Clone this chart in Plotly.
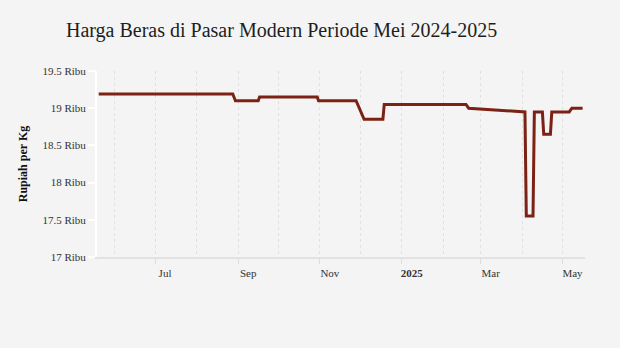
import plotly.graph_objects as go

# Harga beras di pasar modern (ribu rupiah per kg)
tanggal = [
    "2024-05-20", "2024-08-28", "2024-08-30", "2024-09-16", "2024-09-17",
    "2024-10-30", "2024-10-31", "2024-11-28", "2024-12-04", "2024-12-18",
    "2024-12-19", "2025-02-18", "2025-02-20", "2025-04-03", "2025-04-04",
    "2025-04-09", "2025-04-10", "2025-04-16", "2025-04-17", "2025-04-22",
    "2025-04-23", "2025-05-06", "2025-05-08", "2025-05-16",
]
harga = [
    19.19, 19.19, 19.10, 19.10, 19.15,
    19.15, 19.10, 19.10, 18.85, 18.85,
    19.05, 19.05, 19.00, 18.95, 17.55,
    17.55, 18.95, 18.95, 18.65, 18.65,
    18.95, 18.95, 19.00, 19.00,
]

# Label sumbu
x_tickvals = ["2024-07-01", "2024-09-01", "2024-11-01", "2025-01-01", "2025-03-01", "2025-05-01"]
x_ticktext = ["Jul", "Sep", "Nov", "<b>2025</b>", "Mar", "May"]
y_tickvals = [17, 17.5, 18, 18.5, 19, 19.5]
y_ticktext = ["17 Ribu", "17.5 Ribu", "18 Ribu", "18.5 Ribu", "19 Ribu", "19.5 Ribu"]

BG = "#f4f4f4"
SERIF = "Liberation Serif, Times New Roman, serif"

fig = go.Figure(
    go.Scatter(
        x=tanggal,
        y=harga,
        mode="lines",
        line=dict(color="#7b2214", width=3),
        hoverinfo="x+y",
    )
)

fig.update_layout(
    width=620,
    height=348,
    margin=dict(l=97, r=35, t=71, b=91),
    paper_bgcolor=BG,
    plot_bgcolor=BG,
    showlegend=False,
    font=dict(family=SERIF, size=11, color="#333333"),
    title=dict(
        text="Harga Beras di Pasar Modern Periode Mei 2024-2025",
        font=dict(family=SERIF, size=20, color="#1e1e1e"),
        x=66 / 620,
        xanchor="left",
        xref="container",
        y=1 - 30 / 348,
        yanchor="middle",
        yref="container",
    ),
)

fig.update_xaxes(
    type="date",
    range=["2024-05-18 17:00", "2025-05-17 19:00"],
    tickmode="array",
    tickvals=x_tickvals,
    ticktext=x_ticktext,
    ticklabelshift=10,
    ticks="outside",
    ticklen=5,
    tickwidth=1,
    tickcolor="#dddddd",
    tickfont=dict(family=SERIF, size=11, color="#333333"),
    showgrid=True,
    gridcolor="#e0e0e0",
    griddash="dot",
    gridwidth=1,
    minor=dict(dtick="M1", tick0="2024-06-01", showgrid=True,
               gridcolor="#e0e0e0", griddash="dot", gridwidth=1),
    showline=True,
    linecolor="#e2e2e2",
    linewidth=2,
    zeroline=False,
)

fig.update_yaxes(
    range=[17, 19.5],
    tickmode="array",
    tickvals=y_tickvals,
    ticktext=y_ticktext,
    ticks="outside",
    ticklen=7,
    tickwidth=2,
    tickcolor="#ffffff",
    tickfont=dict(family=SERIF, size=11, color="#333333"),
    showgrid=False,
    showline=True,
    linecolor="#ffffff",
    linewidth=2,
    zeroline=False,
    title=dict(text="<b>Rupiah per Kg</b>", font=dict(family=SERIF, size=12, color="#111111"),
               standoff=12),
)

fig.write_html("out.html")
